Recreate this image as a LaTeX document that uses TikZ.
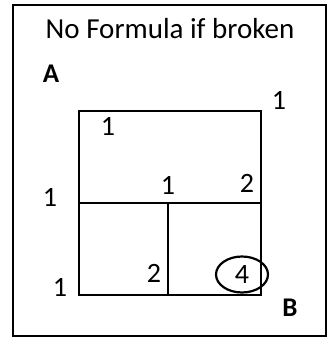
\documentclass[tikz,border=0pt]{standalone}
\usepackage{fontspec}
\setmainfont{Carlito}
\usetikzlibrary{positioning,shapes.geometric}
\tikzset{
  grid line/.style={line width=2.2pt},
  cell num/.style={font=\fontsize{28}{28}\selectfont, inner sep=0pt},
  corner lbl/.style={font=\fontsize{27}{27}\selectfont\bfseries, inner sep=0pt},
  pick ring/.style={ellipse, draw, line width=2.2pt, minimum width=52pt, minimum height=36pt, inner sep=0pt}
}
\begin{document}
\begin{tikzpicture}[x=1pt,y=-1pt]
  \useasboundingbox (0,0) rectangle (333,339);
  % Frame
  \draw[grid line] (13,5) rectangle (326,336);
  \node[cell num, font=\fontsize{29}{29}\selectfont] (title) at (170,29) {No Formula if broken};

  % Grid
  \draw[grid line] (79,111) rectangle (261,295);
  \draw[grid line] (79,203) -- (261,203);
  \draw[grid line] (168,203) -- (168,295);

  % Corners
  \node[corner lbl] (A) at (51,74) {A};
  \node[corner lbl] (B) at (290,308) {B};

  % Path counts
  \node[cell num] (tr) at (279,100) {1};
  \node[cell num] (tl) at (108,126) {1};
  \node[cell num] (mid) at (168,185) {1};
  \node[cell num] (mr) at (247,183) {2};
  \node[cell num] (ml) at (50,197) {1};
  \node[cell num] (bm) at (154,273) {2};
  \node[cell num] (bl) at (60,287) {1};
  \node[cell num, pick ring] (br) at (242,274.5) {4};
\end{tikzpicture}
\end{document}
